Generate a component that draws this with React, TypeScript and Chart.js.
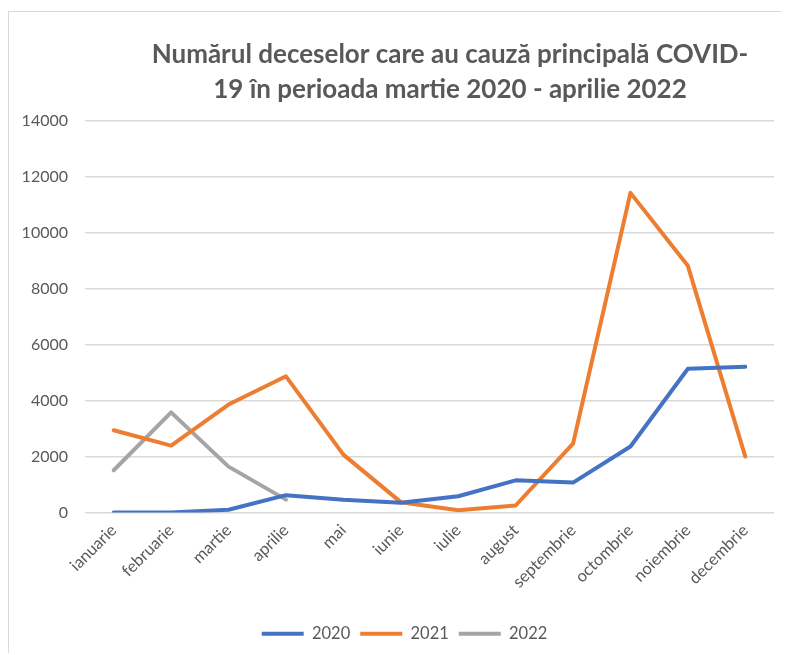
import React, { useEffect, useRef } from "react";
import { Chart, registerables } from "chart.js";

Chart.register(...registerables);

const months = [
  "ianuarie", "februarie", "martie", "aprilie", "mai", "iunie",
  "iulie", "august", "septembrie", "octombrie", "noiembrie", "decembrie",
];
const series2020 = [0, 0, 100, 620, 460, 350, 580, 1150, 1070, 2360, 5140, 5210];
const series2021 = [2940, 2390, 3860, 4870, 2070, 370, 80, 250, 2460, 11430, 8820, 2000];
const series2022 = [1510, 3580, 1640, 460, null, null, null, null, null, null, null, null];
const titleLines = [
  "Numărul deceselor care au cauză principală COVID-",
  "19 în perioada martie 2020 - aprilie 2022",
];

const FONT = "Lato, 'Open Sans', sans-serif";
const TEXT = "#595959";

const titlePlugin = {
  id: "customTitle",
  afterLayout(chart: any) {
    const lg = chart.legend;
    if (lg) {
      lg.left += 13;
      lg.right += 13;
      lg.top += 3;
      lg.bottom += 3;
    }
  },
  afterDraw(chart: any) {
    const ctx = chart.ctx;
    ctx.save();
    ctx.fillStyle = TEXT;
    ctx.font = `bold 26px ${FONT}`;
    ctx.textAlign = "center";
    ctx.textBaseline = "middle";
    const cx = 441;
    ctx.fillText(titleLines[0], cx, 43);
    ctx.fillText(titleLines[1], cx, 78);
    ctx.restore();
  },
};

export default function App() {
  const ref = useRef<HTMLCanvasElement>(null);
  useEffect(() => {
    if (!ref.current) return;
    const chart = new Chart(ref.current, {
      type: "line",
      data: {
        labels: months,
        datasets: [
          { label: "2020", data: series2020, borderColor: "#4472C4", backgroundColor: "#4472C4" },
          { label: "2021", data: series2021, borderColor: "#ED7D31", backgroundColor: "#ED7D31" },
          { label: "2022", data: series2022, borderColor: "#A5A5A5", backgroundColor: "#A5A5A5" },
        ].map((d) => ({
          ...d,
          borderWidth: 4,
          pointRadius: 0,
          pointHoverRadius: 0,
          tension: 0,
          borderJoinStyle: "round" as const,
          borderCapStyle: "round" as const,
          fill: false,
          spanGaps: false,
        })),
      },
      options: {
        responsive: false,
        animation: false,
        layout: { padding: { top: 109, right: 15, bottom: 6, left: 0 } },
        plugins: {
          title: { display: false },
          tooltip: { enabled: false },
          legend: {
            position: "bottom",
            labels: {
              usePointStyle: true,
              pointStyle: "line",
              pointStyleWidth: 42,
              boxHeight: 4,
              color: TEXT,
              font: { family: FONT, size: 16.5 },
              padding: 10,
            },
          },
        },
        scales: {
          x: {
            offset: true,
            grid: { display: false, drawTicks: false },
            border: { display: false },
            ticks: {
              color: TEXT,
              font: { family: FONT, size: 16.5 },
              minRotation: 45,
              maxRotation: 45,
              padding: 8,
              autoSkip: false,
            },
            afterFit(scale: any) {
              scale.height = 100;
            },
          },
          y: {
            min: 0,
            max: 14000,
            ticks: {
              stepSize: 2000,
              color: TEXT,
              font: { family: FONT, size: 16 },
              padding: 17,
              callback: (v: any) => String(v),
            },
            grid: { color: "#d9d9d9", lineWidth: 1.5, drawTicks: false },
            border: { display: false },
            afterFit(scale: any) {
              scale.width = 76;
            },
          },
        },
      },
      plugins: [titlePlugin],
    });
    return () => chart.destroy();
  }, []);

  return (
    <div
      style={{
        position: "relative",
        top: 3,
        width: 781,
        height: 644,
        borderLeft: "1px solid #d9d9d9",
        borderTop: "1px solid #d9d9d9",
        overflow: "hidden",
      }}
    >
      <canvas ref={ref} width={780} height={643} style={{ display: "block" }} />
    </div>
  );
}
